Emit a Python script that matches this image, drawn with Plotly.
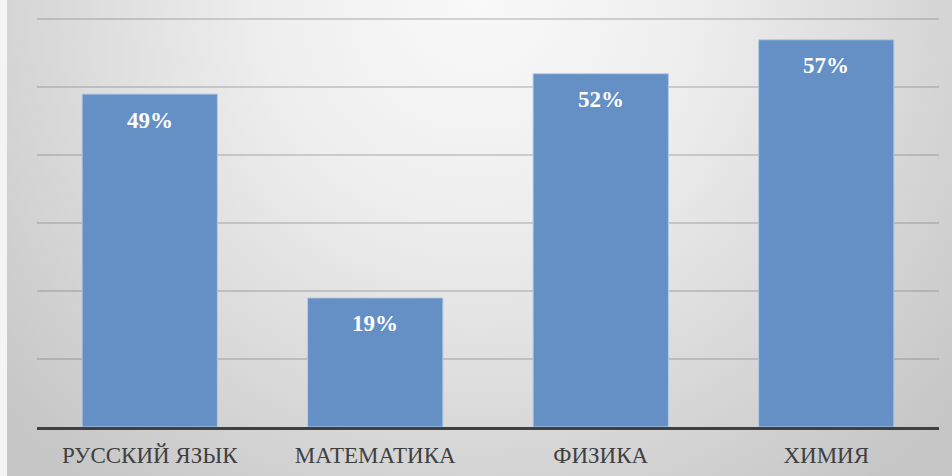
import base64
import plotly.graph_objects as go

categories = ["РУССКИЙ ЯЗЫК", "МАТЕМАТИКА", "ФИЗИКА", "ХИМИЯ"]
values = [49, 19, 52, 57]
labels = ["49%", "19%", "52%", "57%"]

W, H = 952, 476
L, R, T, B = 37, 13, 18, 49
pw, ph = W - L - R, H - T - B
FONT = "Liberation Serif, Times New Roman, serif"

svg = f'''<svg xmlns="http://www.w3.org/2000/svg" width="945" height="476" viewBox="0 0 945 476" preserveAspectRatio="none">
<defs><radialGradient id="g" gradientUnits="userSpaceOnUse" cx="470" cy="0" r="620">
<stop offset="0" stop-color="#f9f9f9"/><stop offset="0.35" stop-color="#eeeeee"/><stop offset="1" stop-color="#c6c6c6"/>
</radialGradient></defs><rect width="945" height="476" fill="url(#g)"/></svg>'''
src = "data:image/svg+xml;base64," + base64.b64encode(svg.encode()).decode()

fig = go.Figure()
fig.add_trace(go.Bar(
    x=categories, y=values,
    marker=dict(color="#6490c5", line=dict(color="#b4cbe6", width=1)),
    width=0.6, hoverinfo="skip",
))

for c, v, t in zip(categories, values, labels):
    fig.add_annotation(x=c, y=v, text=f"<b>{t}</b>", showarrow=False,
                       yanchor="middle", yshift=-26,
                       font=dict(family=FONT, size=23, color="white"))

fig.add_layout_image(dict(
    source=src, xref="paper", yref="paper",
    x=(7 - L) / pw, y=(H - B) / ph, sizex=945 / pw, sizey=H / ph,
    xanchor="left", yanchor="top", sizing="stretch", layer="below",
))

fig.update_layout(
    width=W, height=H,
    margin=dict(l=L, r=R, t=T, b=B, autoexpand=False),
    paper_bgcolor="#f4f4f4", plot_bgcolor="rgba(0,0,0,0)",
    showlegend=False,
    xaxis=dict(showline=True, linecolor="#404040", linewidth=2.5,
               tickfont=dict(family=FONT, size=23, color="#404040"),
               ticklabelstandoff=6,
               ticks="", showgrid=False, fixedrange=True, automargin=False),
    yaxis=dict(range=[0, 60.2], tickvals=[10, 20, 30, 40, 50, 60], showticklabels=False, ticks="",
               showgrid=True, gridcolor="rgba(120,120,120,0.3)", gridwidth=2,
               zeroline=False, fixedrange=True, automargin=False),
)

fig.write_html("out.html", config={"displayModeBar": False},
               post_script="document.body.style.margin='0';document.body.style.overflow='hidden';")
